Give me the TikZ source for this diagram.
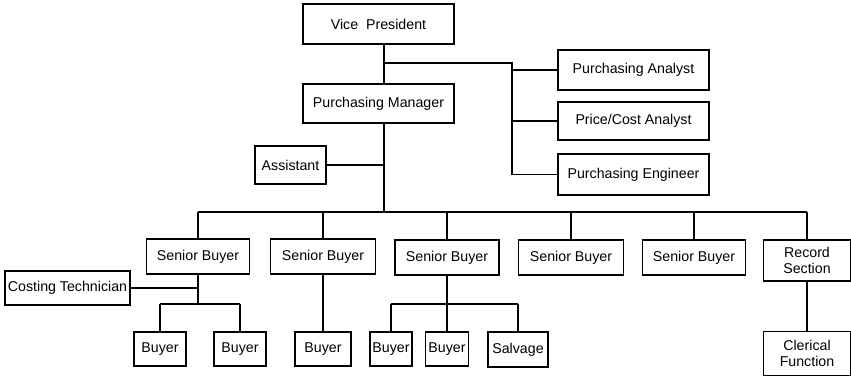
\documentclass[tikz,border=0pt]{standalone}
\usepackage{fontspec}
\setmainfont{Liberation Sans}
\begin{document}
\begin{tikzpicture}[x=1pt,y=-1pt,
  box/.style={draw, line width=1.2pt, inner sep=0pt, align=center,
    font=\fontsize{14.2}{16}\selectfont},
  wire/.style={line width=1.2pt}]
\useasboundingbox (0,0) rectangle (851,378);

% head office
\node[box, minimum width=151pt, minimum height=40pt] (vp) at (378.5,24) {Vice\ \ President};
\node[box, minimum width=151pt, minimum height=39pt] (pm) at (378.5,103.5) {Purchasing Manager};

% staff positions
\node[box, minimum width=151pt, minimum height=40pt] (pa) at (633.5,70) {Purchasing Analyst};
\node[box, minimum width=151pt, minimum height=38pt] (pca) at (633.5,121) {Price/Cost Analyst};
\node[box, minimum width=151pt, minimum height=41pt] (pe) at (633.5,174.5) {Purchasing Engineer};
\node[box, minimum width=71pt, minimum height=38pt] (asst) at (290.5,165) {Assistant};

% senior buyers and record section
\node[box, minimum width=103pt, minimum height=35pt] (sb1) at (198,256.5) {Senior Buyer};
\node[box, minimum width=105pt, minimum height=35pt] (sb2) at (323,256.5) {Senior Buyer};
\node[box, minimum width=104pt, minimum height=35pt] (sb3) at (447,257.5) {Senior Buyer};
\node[box, minimum width=105pt, minimum height=35pt] (sb4) at (571,257.5) {Senior Buyer};
\node[box, minimum width=103pt, minimum height=35pt] (sb5) at (694,257.5) {Senior Buyer};
\node[box, minimum width=87pt, minimum height=41pt] (rec) at (807,260.5) {Record\\Section};

% lower level
\node[box, minimum width=125pt, minimum height=34pt] (cost) at (67.5,288) {Costing Technician};
\node[box, minimum width=52pt, minimum height=34pt] (b1) at (160,349) {Buyer};
\node[box, minimum width=52pt, minimum height=34pt] (b2) at (240,349) {Buyer};
\node[box, minimum width=56pt, minimum height=34pt] (b3) at (323,349) {Buyer};
\node[box, minimum width=42pt, minimum height=34pt] (b4) at (391,349) {Buyer};
\node[box, minimum width=43pt, minimum height=34pt] (b5) at (447,349) {Buyer};
\node[box, minimum width=60pt, minimum height=35pt] (salv) at (518,349.5) {Salvage};
\node[box, minimum width=87pt, minimum height=44pt] (cler) at (807,353.5) {Clerical\\Function};

% routing points
\coordinate (trunk) at (384,0);
\coordinate (staff) at (512,63);
\coordinate (bus) at (0,212);
\coordinate (j1) at (0,304);
\coordinate (j3) at (0,304);

% main trunk
\draw[wire] (vp.south -| trunk) -- (pm.north -| trunk);
\draw[wire] (pm.south -| trunk) -- (trunk |- bus);
\draw[wire] (trunk |- staff) -- (staff) -- (staff |- pe.west);
\draw[wire] (pa.west) -- (pa.west -| staff);
\draw[wire] (pca.west) -- (pca.west -| staff);
\draw[wire] (pe.west) -- (pe.west -| staff);
\draw[wire] (asst.east) -- (asst.east -| trunk);

% bus to senior buyers
\draw[wire] (sb1.north |- bus) -- (rec.north |- bus);
\foreach \n in {sb1,sb2,sb3,sb4,sb5,rec}
  \draw[wire] (\n.north) -- (\n.north |- bus);

% first senior buyer group
\draw[wire] (sb1.south) -- (sb1.south |- j1);
\draw[wire] (cost.east) -- (cost.east -| sb1.south);
\draw[wire] (b1.north |- j1) -- (b2.north |- j1);
\draw[wire] (b1.north) -- (b1.north |- j1);
\draw[wire] (b2.north) -- (b2.north |- j1);

% second and third groups
\draw[wire] (sb2.south) -- (b3.north);
\draw[wire] (sb3.south) -- (sb3.south |- j3);
\draw[wire] (b4.north |- j3) -- (salv.north |- j3);
\draw[wire] (b4.north) -- (b4.north |- j3);
\draw[wire] (b5.north) -- (b5.north |- j3);
\draw[wire] (salv.north) -- (salv.north |- j3);

% record section
\draw[wire] (rec.south) -- (cler.north);
\end{tikzpicture}
\end{document}
